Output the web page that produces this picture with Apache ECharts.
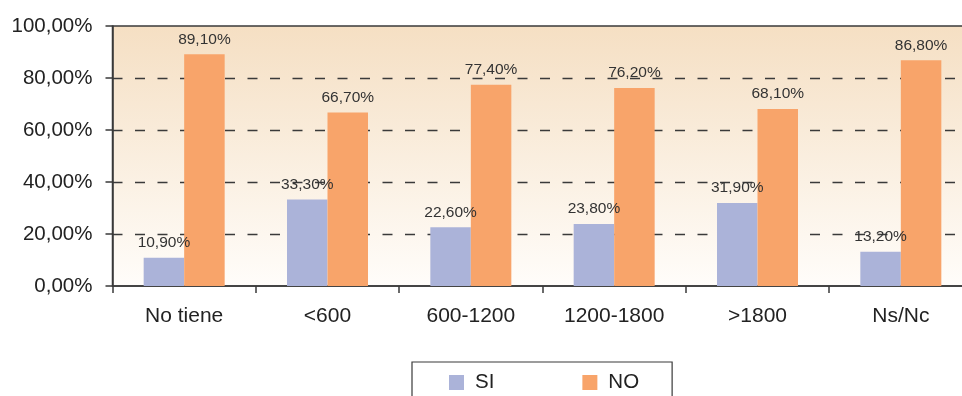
<!DOCTYPE html>
<html>
<head>
<meta charset="utf-8">
<script src="https://cdn.jsdelivr.net/npm/echarts@6/dist/echarts.min.js"></script>
<style>
  html, body { margin: 0; padding: 0; background: #ffffff; overflow: hidden; }
  /* the plot runs slightly past the right edge of the page */
  #chart { width: 976px; height: 396px; }
</style>
</head>
<body>
<div id="chart"></div>
<script>
// Income brackets and share of answers per group
const categories = ['No tiene', '<600', '600-1200', '1200-1800', '>1800', 'Ns/Nc'];
const siValues = [10.9, 33.3, 22.6, 23.8, 31.9, 13.2];
const noValues = [89.1, 66.7, 77.4, 76.2, 68.1, 86.8];
const seriesNames = ['SI', 'NO'];

const FONT = '"Liberation Sans", Arial, Helvetica, sans-serif';
const pct = v => Number(v).toFixed(2).replace('.', ',') + '%';

const chart = echarts.init(document.getElementById('chart'), null, { renderer: 'canvas' });

const labelStyle = {
  show: true,
  position: 'top',
  distance: 7,
  color: '#333333',
  fontFamily: FONT,
  fontSize: 15.5,
  formatter: p => pct(p.value)
};

chart.setOption({
  animation: false,
  textStyle: { fontFamily: FONT },
  grid: {
    left: 112.5,
    top: 26,
    right: 3.5,
    bottom: 110,
    show: true,
    borderColor: '#3a3a3a',
    borderWidth: 1.5,
    backgroundColor: new echarts.graphic.LinearGradient(0, 0, 0, 1, [
      { offset: 0, color: '#F5DFC3' },
      { offset: 1, color: '#FFFDFA' }
    ])
  },
  legend: {
    data: seriesNames,
    left: 412,
    top: 362,
    padding: [10, 33, 30, 37],
    itemGap: 88,
    itemWidth: 15,
    itemHeight: 15,
    icon: 'rect',
    borderColor: '#3a3a3a',
    borderWidth: 1.2,
    textStyle: { fontFamily: FONT, fontSize: 20.5, color: '#222222', padding: [0, 0, 0, 6] }
  },
  xAxis: {
    type: 'category',
    data: categories,
    axisLine: { show: true, lineStyle: { color: '#3a3a3a', width: 1.5 } },
    axisTick: { show: true, length: 7, lineStyle: { color: '#3a3a3a', width: 1.5 } },
    axisLabel: { color: '#222222', fontSize: 21, fontFamily: FONT, margin: 20 },
    splitLine: { show: false }
  },
  yAxis: {
    type: 'value',
    min: 0,
    max: 100,
    interval: 20,
    axisLine: { show: true, lineStyle: { color: '#3a3a3a', width: 1.5 } },
    axisTick: { show: true, length: 7, lineStyle: { color: '#3a3a3a', width: 1.5 } },
    axisLabel: { color: '#222222', fontSize: 20.5, fontFamily: FONT, margin: 20, formatter: v => pct(v) },
    splitLine: {
      show: true,
      showMinLine: false,
      showMaxLine: false,
      lineStyle: { color: '#3a3a3a', width: 1.3, type: [10, 12.5] }
    }
  },
  series: [
    {
      name: seriesNames[0],
      type: 'bar',
      data: siValues,
      barWidth: 40.5,
      barGap: '0%',
      itemStyle: { color: '#ABB3D9' },
      label: labelStyle
    },
    {
      name: seriesNames[1],
      type: 'bar',
      data: noValues,
      barWidth: 40.5,
      barGap: '0%',
      itemStyle: { color: '#F8A46A' },
      label: labelStyle
    }
  ]
});
</script>
</body>
</html>
